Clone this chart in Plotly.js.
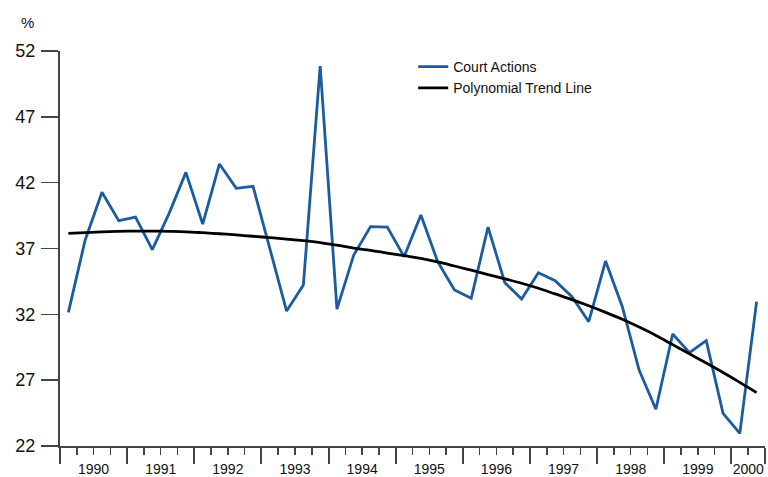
<!DOCTYPE html>
<html>
<head>
<meta charset="utf-8">
<script src="https://cdn.plot.ly/plotly-3.0.1.min.js"></script>
<style>html,body{margin:0;padding:0;background:#fff;}#chart{width:768px;height:477px;}</style>
</head>
<body>
<div id="chart"></div>
<script>
// Quarterly observations, 1990 Q1 to 2000 Q2
const courtActions = [32.15, 37.65, 41.27, 39.11, 39.39, 36.91, 39.67, 42.78, 38.86, 43.42,
  41.57, 41.72, 37.0, 32.25, 34.23, 50.86, 32.4, 36.51, 38.66, 38.63,
  36.38, 39.54, 36.0, 33.85, 33.22, 38.63, 34.4, 33.16, 35.16, 34.56,
  33.34, 31.44, 36.05, 32.58, 27.77, 24.79, 30.51, 29.09, 30.0, 24.48,
  22.96, 32.96];
const trendLine = [38.15, 38.2, 38.26, 38.3, 38.32, 38.32, 38.3, 38.27, 38.2, 38.12,
  38.03, 37.93, 37.83, 37.72, 37.6, 37.45, 37.25, 37.03, 36.86, 36.65,
  36.45, 36.25, 35.98, 35.67, 35.35, 35.02, 34.7, 34.36, 33.98, 33.55,
  33.12, 32.65, 32.15, 31.62, 31.03, 30.4, 29.7, 29.0, 28.3, 27.58,
  26.83, 26.05];
const years = ["1990","1991","1992","1993","1994","1995","1996","1997","1998","1999","2000"];
const yTicks = [22, 27, 32, 37, 42, 47, 52];

const nQ = courtActions.length;
const xq = courtActions.map((_, i) => i + 0.5);
const majorTicks = [];
for (let q = 0; q <= nQ; q += 4) majorTicks.push(q);
majorTicks.push(nQ);
const yearCenters = years.map((_, k) => Math.min(k * 4 + 2, (k * 4 + nQ) / 2));

const font = "Liberation Sans, Arial, sans-serif";
const axisCol = "#444444";

const traces = [
  {x: xq, y: courtActions, type: "scatter", mode: "lines", name: "Court Actions",
   line: {color: "#1a5c9e", width: 2.8}},
  {x: xq, y: trendLine, type: "scatter", mode: "lines", name: "Polynomial Trend Line",
   line: {color: "#000000", width: 2.8, shape: "spline"}},
  {x: [0], y: [null], xaxis: "x2", showlegend: false, hoverinfo: "skip"}
];

const layout = {
  width: 768, height: 477,
  margin: {l: 60, r: 3, t: 51, b: 31},
  paper_bgcolor: "#fff", plot_bgcolor: "#fff",
  font: {family: font, color: "#111"},
  showlegend: true,
  legend: {x: 0.501, y: 1.0, xanchor: "left", yanchor: "top",
           font: {size: 14, family: font, color: "#111"}, bgcolor: "rgba(0,0,0,0)",
           tracegroupgap: 0},
  xaxis: {range: [0, nQ], showgrid: false, zeroline: false,
          showline: true, linecolor: axisCol, linewidth: 2,
          tickmode: "array", tickvals: majorTicks, ticks: "outside", ticklen: 16,
          tickwidth: 2, tickcolor: axisCol, showticklabels: false,
          minor: {tickmode: "linear", tick0: 0, dtick: 1, ticks: "outside", ticklen: 7,
                  tickwidth: 1.5, tickcolor: axisCol, showgrid: false}},
  xaxis2: {range: [0, nQ], overlaying: "x", side: "bottom", showgrid: false, zeroline: false,
           showline: false, tickmode: "array", tickvals: yearCenters, ticktext: years,
           ticks: "outside", ticklen: 10, tickcolor: "rgba(0,0,0,0)",
           tickfont: {size: 14, family: font, color: "#111"}},
  yaxis: {range: [22, 52], showgrid: false, zeroline: false,
          showline: true, linecolor: axisCol, linewidth: 2,
          tickmode: "array", tickvals: yTicks, ticks: "outside", ticklen: 17,
          tickwidth: 1.5, tickcolor: axisCol, ticklabelstandoff: 2,
          tickfont: {size: 18, family: font, color: "#111"}},
  annotations: [{text: "%", xref: "paper", yref: "paper", x: -0.046, y: 1.072,
                 xanchor: "center", yanchor: "middle", showarrow: false,
                 font: {size: 15, family: font, color: "#111"}}]
};

Plotly.newPlot("chart", traces, layout, {staticPlot: true, displayModeBar: false});
</script>
</body>
</html>
